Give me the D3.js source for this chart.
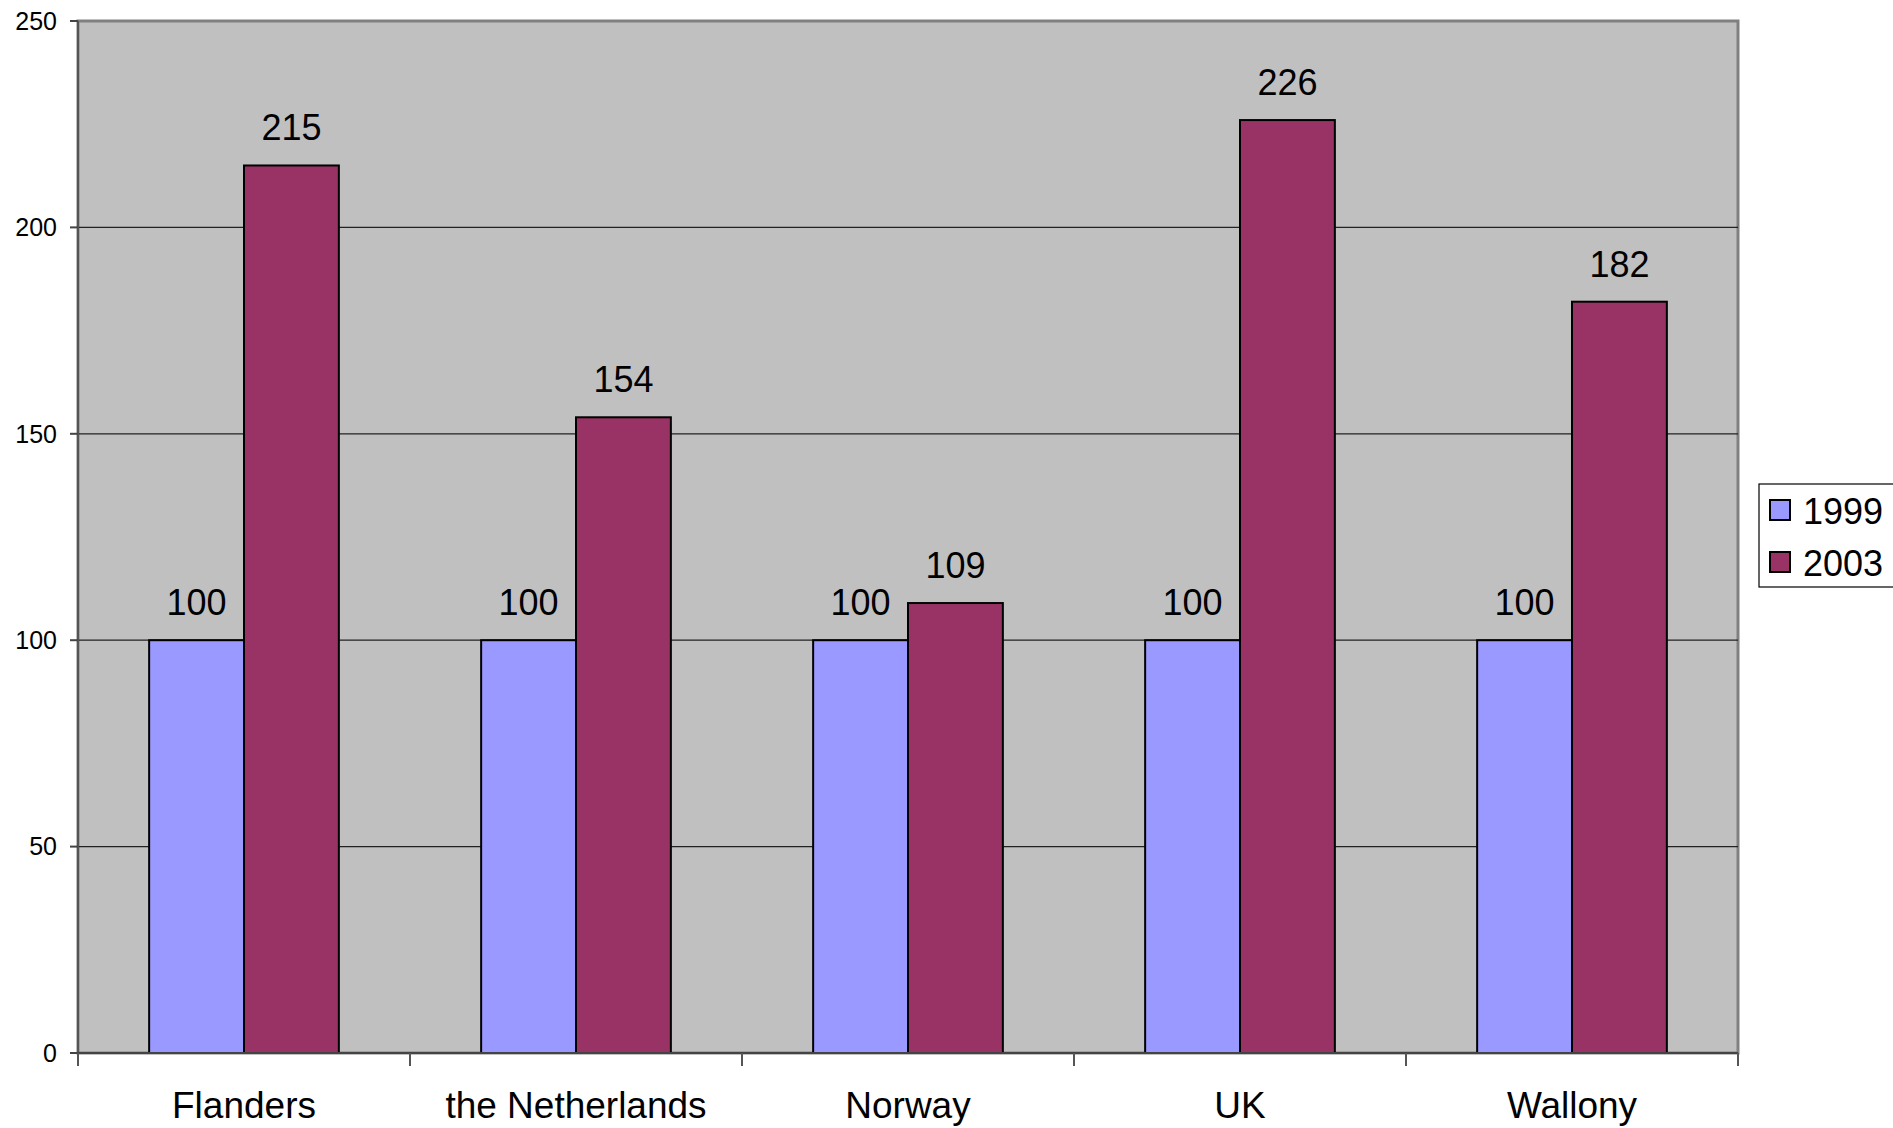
<!DOCTYPE html>
<html><head><meta charset="utf-8">
<script src="https://cdn.jsdelivr.net/npm/d3@7"></script>
<style>body{margin:0;background:#fff;}svg{display:block;font-family:"Liberation Sans",Arial,sans-serif;}</style>
</head><body>
<script>
const categories = ["Flanders","the Netherlands","Norway","UK","Wallony"];
const seriesNames = ["1999","2003"];
const values1999 = [100,100,100,100,100];
const values2003 = [215,154,109,226,182];
const yTicks = [0,50,100,150,200,250];
const colors = ["#9999FF","#993366"];

const W=1893,H=1128;
const L=78,R=1738,T=21,B=1053;
const svg=d3.select("body").append("svg").attr("width",W).attr("height",H);

const x=d3.scaleBand().domain(categories).range([L,R]).paddingInner(0).paddingOuter(0);
const y=d3.scaleLinear().domain([0,250]).range([B,T]);

svg.append("rect").attr("x",L).attr("y",T).attr("width",R-L).attr("height",B-T)
  .attr("fill","#C0C0C0").attr("stroke","#808080").attr("stroke-width",3);

// gridlines
svg.append("g").selectAll("line").data(yTicks.filter(d=>d>0 && d<250)).join("line")
  .attr("x1",L).attr("x2",R).attr("y1",d=>y(d)).attr("y2",d=>y(d))
  .attr("stroke","#222").attr("stroke-width",1.3);

// bars
const bw = x.bandwidth()/(2+1.5);
const data = categories.map((c,i)=>({c,vals:[values1999[i],values2003[i]]}));
const g=svg.append("g");
data.forEach(d=>{
  d.vals.forEach((v,j)=>{
    const bx = x(d.c)+x.bandwidth()/2 - bw + j*bw;
    g.append("rect").attr("x",bx).attr("y",y(v)).attr("width",bw).attr("height",B-y(v))
      .attr("fill",colors[j]).attr("stroke","#000").attr("stroke-width",2);
    g.append("text").attr("x",bx+bw/2).attr("y",y(v)-25).attr("text-anchor","middle")
      .attr("font-size",36).attr("fill","#000").text(v);
  });
});

// axes lines
svg.append("line").attr("x1",L).attr("x2",L).attr("y1",T).attr("y2",B+13).attr("stroke","#555").attr("stroke-width",2);
svg.append("line").attr("x1",L).attr("x2",R).attr("y1",B).attr("y2",B).attr("stroke","#444").attr("stroke-width",2);
// y ticks
svg.append("g").selectAll("line").data(yTicks).join("line")
  .attr("x1",70).attr("x2",L).attr("y1",d=>y(d)).attr("y2",d=>y(d)).attr("stroke","#444").attr("stroke-width",2);
svg.append("g").selectAll("text").data(yTicks).join("text")
  .attr("x",57).attr("y",d=>y(d)).attr("dy","0.35em").attr("text-anchor","end")
  .attr("font-size",25).attr("fill","#000").text(d=>d);
// x ticks at boundaries
const bounds = categories.map(c=>x(c)).concat([R]);
svg.append("g").selectAll("line").data(bounds).join("line")
  .attr("x1",d=>d).attr("x2",d=>d).attr("y1",B).attr("y2",B+13).attr("stroke","#555").attr("stroke-width",2);
svg.append("g").selectAll("text").data(categories).join("text")
  .attr("x",d=>x(d)+x.bandwidth()/2).attr("y",1118).attr("text-anchor","middle")
  .attr("font-size",37).attr("fill","#000").text(d=>d);

// legend
const lg=svg.append("g");
lg.append("rect").attr("x",1759).attr("y",484).attr("width",140).attr("height",103)
  .attr("fill","#fff").attr("stroke","#000").attr("stroke-width",1.2);
seriesNames.forEach((s,i)=>{
  const yy = 511 + i*52;
  lg.append("rect").attr("x",1770).attr("y",yy-11).attr("width",20).attr("height",20)
    .attr("fill",colors[i]).attr("stroke","#000").attr("stroke-width",2);
  lg.append("text").attr("x",1803).attr("y",yy+13).attr("font-size",36).attr("fill","#000").text(s);
});
</script>
</body></html>
